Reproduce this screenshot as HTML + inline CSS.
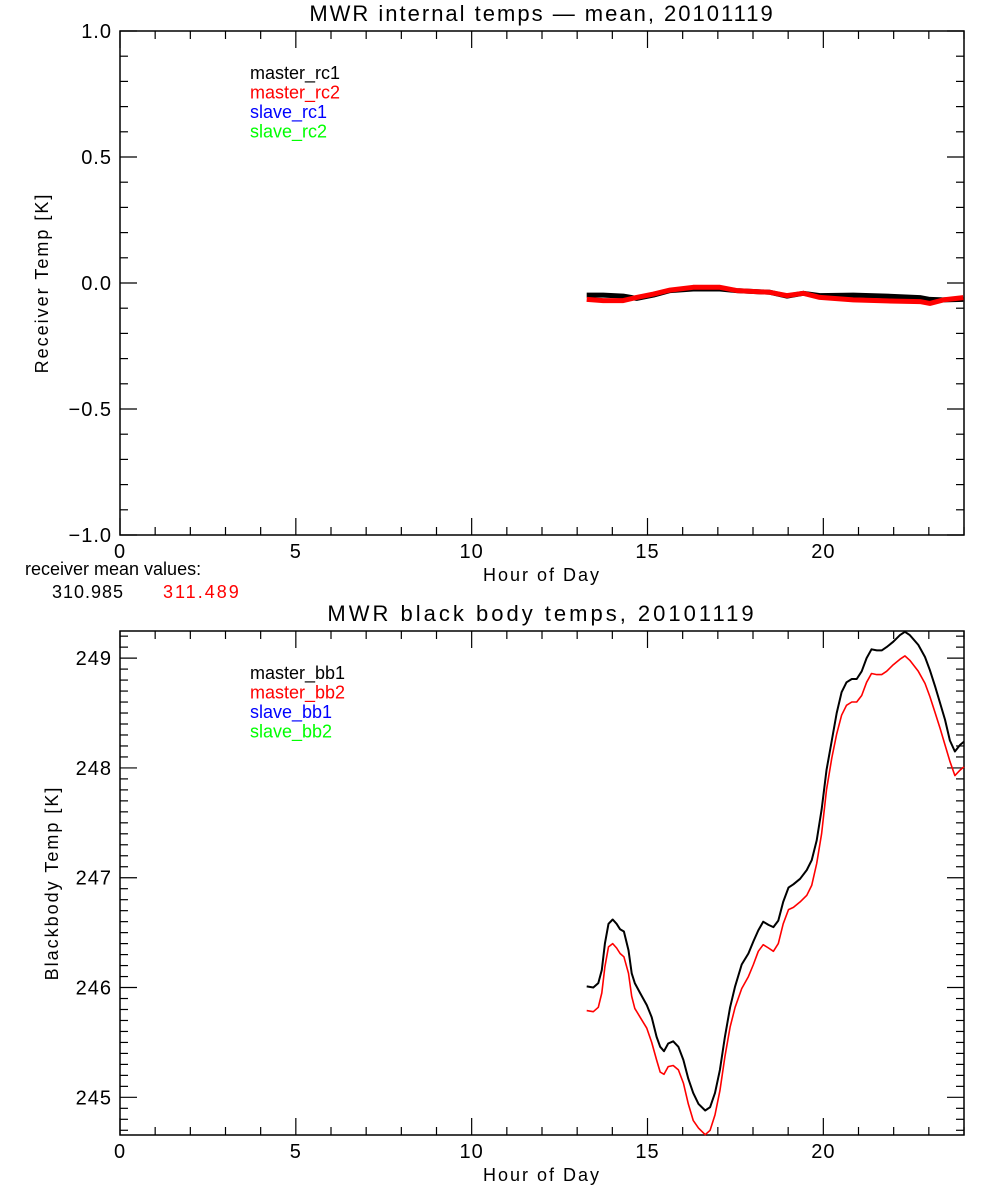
<!DOCTYPE html>
<html><head><meta charset="utf-8"><style>
html,body{margin:0;padding:0;background:#fff;}
svg{display:block;font-family:"Liberation Sans",sans-serif;}
</style></head><body>
<svg id="chart" width="1000" height="1200" viewBox="0 0 1000 1200"></svg>
<script>
// Top panel data (receiver temps, K, mean-removed)
const rcHours = [13.27,13.74,14.31,14.69,15.17,15.64,16.30,17.06,17.54,18.48,18.96,19.43,19.90,20.85,21.80,22.75,23.03,23.41,23.98];
const rc1Values = [-0.048,-0.048,-0.052,-0.061,-0.048,-0.030,-0.024,-0.024,-0.030,-0.037,-0.052,-0.041,-0.050,-0.048,-0.052,-0.058,-0.065,-0.067,-0.065];
const rc2Values = [-0.065,-0.070,-0.070,-0.057,-0.044,-0.028,-0.017,-0.017,-0.030,-0.037,-0.050,-0.041,-0.057,-0.067,-0.071,-0.074,-0.081,-0.067,-0.058];
const rcYTicks = [-1.0,-0.5,0.0,0.5,1.0];
const rcYTickLabels = ["\u22121.0","\u22120.5","0.0","0.5","1.0"];
const xTicks = [0,5,10,15,20];
const xTickLabels = ["0","5","10","15","20"];
const meanValues = ["310.985","311.489"];
// Bottom panel data (blackbody temps, K)
const bbHours = [13.27,13.46,13.60,13.70,13.79,13.89,14.01,14.12,14.22,14.33,14.46,14.55,14.64,14.79,14.98,15.12,15.26,15.36,15.47,15.59,15.73,15.88,16.02,16.16,16.30,16.45,16.64,16.78,16.92,17.06,17.20,17.35,17.49,17.68,17.87,18.01,18.15,18.29,18.44,18.58,18.72,18.86,19.01,19.15,19.34,19.53,19.67,19.81,19.95,20.09,20.24,20.38,20.52,20.66,20.81,20.95,21.09,21.23,21.37,21.52,21.66,21.80,21.99,22.18,22.32,22.46,22.70,22.89,23.03,23.18,23.32,23.46,23.60,23.74,23.89,24.0];
const bb1Values = [246.01,246.00,246.04,246.16,246.40,246.58,246.62,246.58,246.53,246.51,246.34,246.13,246.04,245.95,245.84,245.73,245.55,245.46,245.42,245.49,245.51,245.46,245.34,245.17,245.04,244.94,244.88,244.91,245.04,245.25,245.55,245.82,246.01,246.21,246.31,246.42,246.52,246.60,246.57,246.55,246.61,246.78,246.91,246.94,246.99,247.07,247.16,247.34,247.62,247.98,248.25,248.50,248.69,248.78,248.81,248.81,248.88,249.00,249.08,249.07,249.07,249.10,249.15,249.21,249.24,249.21,249.12,249.01,248.89,248.74,248.59,248.44,248.25,248.15,248.21,248.24];
const bb2Values = [245.79,245.78,245.82,245.95,246.19,246.37,246.40,246.36,246.31,246.28,246.13,245.92,245.81,245.73,245.63,245.50,245.34,245.23,245.21,245.28,245.29,245.25,245.13,244.94,244.79,244.72,244.66,244.70,244.84,245.06,245.37,245.64,245.82,245.99,246.10,246.21,246.33,246.39,246.36,246.33,246.40,246.58,246.71,246.73,246.78,246.84,246.93,247.13,247.40,247.80,248.09,248.31,248.48,248.57,248.60,248.60,248.66,248.78,248.86,248.85,248.85,248.88,248.94,248.99,249.02,248.98,248.88,248.77,248.65,248.50,248.36,248.21,248.06,247.93,247.98,248.01];
const bbYTicks = [245,246,247,248,249];
const bbYTickLabels = ["245","246","247","248","249"];

const NS = "http://www.w3.org/2000/svg";
const svg = document.getElementById('chart');
function mk(tag, attrs, parent){
  const e = document.createElementNS(NS, tag);
  for (const k in attrs) e.setAttribute(k, attrs[k]);
  (parent||svg).appendChild(e);
  return e;
}
function txt(s, x, y, opts, parent){
  const t = mk('text', {x:x, y:y, 'font-size':opts.size||18, fill:opts.fill||'#000', 'text-anchor':opts.anchor||'start', 'letter-spacing':opts.ls||0}, parent);
  if (opts.rot) t.setAttribute('transform', 'rotate(-90 '+x+' '+y+')');
  t.textContent = s;
  return t;
}
const X0 = 120, X1 = 964;
function xScale(h){ return X0 + (h/24)*(X1-X0); }

function panel(cfg){
  const g = mk('g', {});
  
  
  const yS = v => cfg.top + (cfg.ymax - v)/(cfg.ymax - cfg.ymin)*(cfg.bot - cfg.top);
  const frame = mk('rect', {x:X0, y:cfg.top, width:X1-X0, height:cfg.bot-cfg.top, fill:'none', stroke:'#000', 'stroke-width':1.5}, g);
  
  
  for (let h=0; h<=24; h++){
    const x = xScale(h), L = (h%5===0)?17:8;
    mk('line', {x1:x, x2:x, y1:cfg.bot, y2:cfg.bot-L, stroke:'#000', 'stroke-width':1.2}, g);
    mk('line', {x1:x, x2:x, y1:cfg.top, y2:cfg.top+L, stroke:'#000', 'stroke-width':1.2}, g);
  }
  xTicks.forEach((h,i)=>{
    const t = txt(xTickLabels[i], xScale(h), cfg.bot+23, {anchor:'middle', size:20, ls:1}, g);
    
    
  });
  for (let v=cfg.minorStart; v<=cfg.ymax+1e-9; v+=cfg.minor){
    const y = yS(v);
    if (y < cfg.top-0.5 || y > cfg.bot+0.5) continue;
    const isMajor = Math.abs(v/cfg.major - Math.round(v/cfg.major)) < 1e-6;
    const L = isMajor?17:8;
    mk('line', {x1:X0, x2:X0+L, y1:y, y2:y, stroke:'#000', 'stroke-width':1.2}, g);
    mk('line', {x1:X1, x2:X1-L, y1:y, y2:y, stroke:'#000', 'stroke-width':1.2}, g);
  }
  cfg.yTicks.forEach((v,i)=>{
    const t = txt(cfg.yLabels[i], X0-8, yS(v)+7, {anchor:'end', size:20, ls:1}, g);
    
    
  });
  const title = txt(cfg.title, 542, cfg.top-10, {anchor:'middle', size:22, ls:cfg.tls}, g);
  
  
  const xl = txt('Hour of Day', 542, cfg.bot+46, {anchor:'middle', ls:2}, g);
  
  
  const yl = txt(cfg.ylabel, cfg.ylx, (cfg.top+cfg.bot)/2, {anchor:'middle', rot:true, ls:2}, g);
  
  
  cfg.legend.forEach((s,i)=>{
    const t = txt(s[0], 250, cfg.top+48+i*19.5, {fill:s[1]}, g);
    
    
  });
  cfg.series.forEach(s=>{
    const d = cfg.hours.map((h,i)=>(i?'L':'M')+xScale(h).toFixed(1)+' '+yS(s.vals[i]).toFixed(1)).join(' ');
    const p = mk('path', {d:d, fill:'none', stroke:s.color, 'stroke-width':s.w, 'stroke-linejoin':'round'}, g);
    
    
  });
  return g;
}

panel({name:'receiver-panel', top:31, bot:535, ymin:-1, ymax:1, major:0.5, minor:0.1, minorStart:-1,
  yTicks:rcYTicks, yLabels:rcYTickLabels, title:'MWR internal temps \u2014 mean, 20101119', tls:2,
  ylabel:'Receiver Temp [K]', ylx:48, hours:rcHours,
  legend:[['master_rc1','#000'],['master_rc2','#f00'],['slave_rc1','#00f'],['slave_rc2','#0f0']],
  series:[{name:'master-rc1-line', vals:rc1Values, color:'#000', w:5},{name:'master-rc2-line', vals:rc2Values, color:'#f00', w:5}]});

panel({name:'blackbody-panel', top:631, bot:1135, ymin:244.657, ymax:249.247, major:1, minor:0.1, minorStart:244.7,
  yTicks:bbYTicks, yLabels:bbYTickLabels, title:'MWR black body temps, 20101119', tls:3,
  ylabel:'Blackbody Temp [K]', ylx:58, hours:bbHours,
  legend:[['master_bb1','#000'],['master_bb2','#f00'],['slave_bb1','#00f'],['slave_bb2','#0f0']],
  series:[{name:'master-bb1-line', vals:bb1Values, color:'#000', w:2},{name:'master-bb2-line', vals:bb2Values, color:'#f00', w:1.6}]});

const m1 = txt('receiver mean values:', 25, 575, {});


const m2 = txt(meanValues[0], 52, 598, {ls:1});


const m3 = txt(meanValues[1], 163, 598, {fill:'#f00', ls:2});


</script>
</body></html>
